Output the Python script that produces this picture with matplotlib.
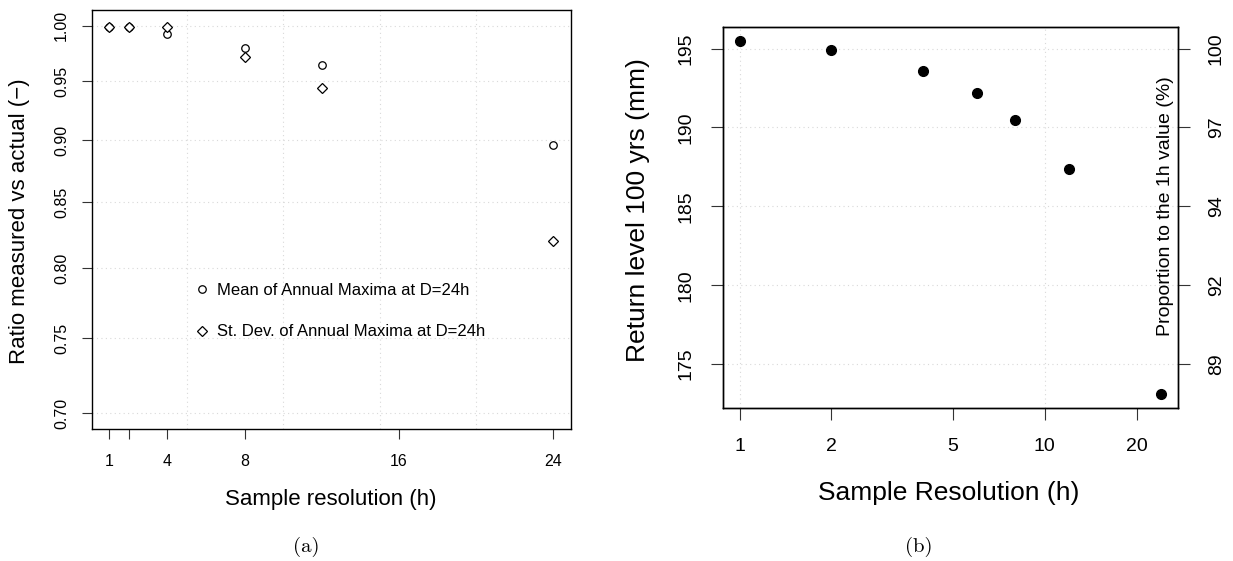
import numpy as np
import matplotlib.pyplot as plt
from matplotlib.ticker import FixedLocator, NullLocator, NullFormatter

plt.rcParams['font.family'] = ['Liberation Sans', 'DejaVu Sans']

# (a) omjer izmjereno / stvarno
res_a = [1, 2, 4, 8, 12, 24]
mean_ratio = [0.999, 0.999, 0.9925, 0.9797, 0.9645, 0.896]
sd_ratio = [0.999, 0.9985, 0.999, 0.9712, 0.944, 0.820]
xticks_a = [1, 2, 4, 8, 16, 24]
xticklabels_a = ['1', '', '4', '8', '16', '24']
yticks_a = [0.70, 0.75, 0.80, 0.85, 0.90, 0.95, 1.00]
xgrid_a = [0, 5, 10, 15, 20, 25]

# (b) povratna razina 100 god
res_b = [1, 2, 4, 6, 8, 12, 24]
rl100 = [195.49, 194.89, 193.6, 192.2, 190.47, 187.39, 173.1]
yticks_b = [175, 180, 185, 190, 195]
prop_labels = ['89', '92', '94', '97', '100']
xticks_b = [1, 2, 5, 10, 20]
xgrid_b = [1, 10]

GRID = dict(color='#d9d9d9', linestyle=(0, (1, 3)), linewidth=0.8, zorder=0)


def r_range(lo, hi):
    # R dodaje 4% sa svake strane
    d = (hi - lo) * 0.04
    return lo - d, hi + d


fig = plt.figure(figsize=(12.33, 5.61), dpi=100)

# ---------------- (a) ----------------
ax = fig.add_axes([0.0744, 0.2353, 0.3887, 0.7469])
ax.set_yscale('log')
ax.set_xlim(*r_range(min(res_a), max(res_a)))
lo, hi = r_range(np.log(0.70), np.log(1.00))
ax.set_ylim(np.exp(lo), np.exp(hi))

for g in xgrid_a:
    ax.axvline(g, **GRID)
for g in yticks_a:
    ax.axhline(g, **GRID)

h1, = ax.plot(res_a, mean_ratio, 'o', mfc='white', mec='black', ms=5.4, mew=0.9,
              linestyle='none', label='Mean of Annual Maxima at D=24h')
h2, = ax.plot(res_a, sd_ratio, 'D', mfc='white', mec='black', ms=5.2, mew=0.9,
              linestyle='none', label='St. Dev. of Annual Maxima at D=24h')

ax.yaxis.set_major_locator(FixedLocator(yticks_a))
ax.yaxis.set_minor_locator(NullLocator())
ax.yaxis.set_minor_formatter(NullFormatter())
ax.set_yticklabels(['%.2f' % v for v in yticks_a])
ax.set_xticks(xticks_a)
ax.set_xticklabels(xticklabels_a)
ax.tick_params(axis='x', length=7.2, width=0.8, labelsize=11.5, pad=11, colors='#333333', labelcolor='black')
ax.tick_params(axis='y', length=7.2, width=0.8, labelsize=11.5, pad=9, labelrotation=90, colors='#333333', labelcolor='black')
for t in ax.get_yticklabels():
    t.set_verticalalignment('center')

ax.legend(handles=[h1, h2], loc='upper left', bbox_to_anchor=(0.2124, 0.348),
          frameon=False, borderaxespad=0, borderpad=0, handlelength=1.0,
          handletextpad=0.41, labelspacing=1.57, fontsize=12)
for s in ax.spines.values():
    s.set_linewidth(1.0)

fig.text(0.2685, 0.1105, 'Sample resolution (h)', fontsize=16, ha='center', va='center')
fig.text(0.0159, 0.606, 'Ratio measured vs actual (\u2212)', fontsize=16,
         rotation=90, ha='center', va='center')

# ---------------- (b) ----------------
bx = fig.add_axes([0.5861, 0.2722, 0.3690, 0.6802])
bx.set_xscale('log')
lo, hi = r_range(np.log(min(res_b)), np.log(max(res_b)))
bx.set_xlim(np.exp(lo), np.exp(hi))
bx.set_ylim(*r_range(min(rl100), max(rl100)))

for g in xgrid_b:
    bx.axvline(g, **GRID)
for g in yticks_b:
    bx.axhline(g, **GRID)

bx.plot(res_b, rl100, 'o', color='black', ms=7, linestyle='none')

bx.xaxis.set_major_locator(FixedLocator(xticks_b))
bx.xaxis.set_minor_locator(NullLocator())
bx.xaxis.set_minor_formatter(NullFormatter())
bx.set_xticklabels([str(v) for v in xticks_b])
bx.set_yticks(yticks_b)
bx.set_yticklabels([str(v) for v in yticks_b])
bx.tick_params(axis='x', length=8.6, width=0.8, labelsize=14, pad=13, colors='#333333', labelcolor='black')
bx.tick_params(axis='y', length=8.6, width=0.8, labelsize=14, pad=12, labelrotation=90, colors='#333333', labelcolor='black')
for t in bx.get_yticklabels():
    t.set_verticalalignment('center')

b2 = bx.twinx()
b2.set_ylim(bx.get_ylim())
b2.set_yticks(yticks_b)
b2.set_yticklabels(prop_labels)
b2.tick_params(axis='y', length=8.6, width=0.8, labelsize=14, pad=13, labelrotation=90, colors='#333333', labelcolor='black')
for t in b2.get_yticklabels():
    t.set_verticalalignment('center')
bx.text(0.974, 0.53, 'Proportion to the 1h value (%)', transform=bx.transAxes,
        rotation=90, ha='center', va='center', fontsize=14)
for s in list(bx.spines.values()) + list(b2.spines.values()):
    s.set_linewidth(1.0)

fig.text(0.7697, 0.1212, 'Sample Resolution (h)', fontsize=19, ha='center', va='center')
fig.text(0.5174, 0.625, 'Return level 100 yrs (mm)', fontsize=19,
         rotation=90, ha='center', va='center')

# potpisi
fig.text(0.2485, 0.025, '(a)', family='cmr10', fontsize=15, ha='center', va='center')
fig.text(0.745, 0.025, '(b)', family='cmr10', fontsize=15, ha='center', va='center')

plt.savefig('out.png', dpi=100)
